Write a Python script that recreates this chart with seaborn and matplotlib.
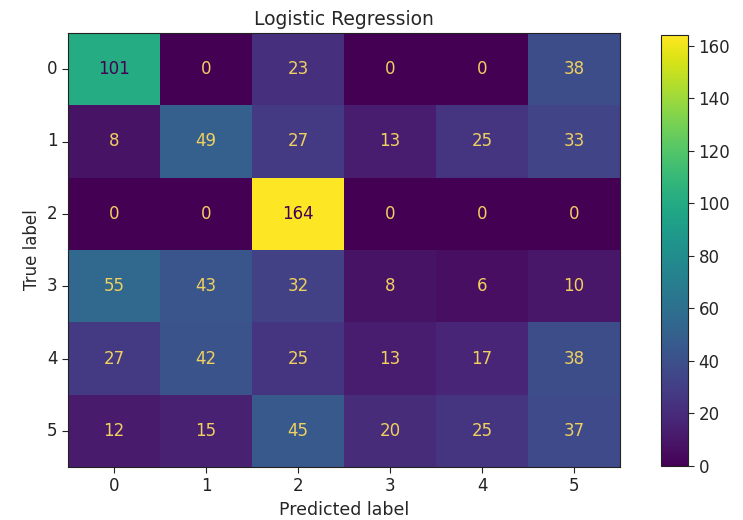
import numpy as np
import matplotlib
matplotlib.use("Agg")
import matplotlib.pyplot as plt
import seaborn as sns

# confusion matrix values
labels = ["0", "1", "2", "3", "4", "5"]
row0 = [101, 0, 23, 0, 0, 38]
row1 = [8, 49, 27, 13, 25, 33]
row2 = [0, 0, 164, 0, 0, 0]
row3 = [55, 43, 32, 8, 6, 10]
row4 = [27, 42, 25, 13, 17, 38]
row5 = [12, 15, 45, 20, 25, 37]
cm = np.array([row0, row1, row2, row3, row4, row5])

sns.set_style("white")
fig = plt.figure(figsize=(7.43, 5.2), dpi=100)
ax = fig.add_axes([68 / 743, 1 - 467 / 520, 552 / 743, 434 / 520])
cax = fig.add_axes([661 / 743, 1 - 466 / 520, 27 / 743, 431 / 520])

cmap = plt.get_cmap("viridis")
sns.heatmap(cm, ax=ax, cbar_ax=cax, cmap=cmap, vmin=0, vmax=cm.max(),
            annot=False, xticklabels=labels, yticklabels=labels)

# sklearn style text colours
thresh = (cm.max() + cm.min()) / 2.0
for i in range(cm.shape[0]):
    for j in range(cm.shape[1]):
        c = cmap(0) if cm[i, j] > thresh else "#f0d060"
        ax.text(j + 0.5, i + 0.5, str(cm[i, j]), ha="center", va="center",
                color=c, fontsize=12)

for sp in ax.spines.values():
    sp.set_visible(True)
    sp.set_color("#222222")
    sp.set_linewidth(0.8)
ax.tick_params(axis="both", which="both", length=4, width=0.8, left=True,
               bottom=True, labelsize=12, colors="#222222")
ax.set_yticklabels(labels, rotation=0)
ax.set_xticklabels(labels, rotation=0)
ax.set_xlabel("Predicted label", fontsize=12.5)
ax.set_ylabel("True label", fontsize=12)
ax.set_title("Logistic Regression", fontsize=13.5, pad=6)

cb = ax.collections[0].colorbar
cb.set_ticks(np.arange(0, 161, 20))
cb.ax.tick_params(labelsize=12, length=4, width=0.8, right=True)
cb.outline.set_visible(True)
cb.outline.set_edgecolor("#222222")
cb.outline.set_linewidth(0.8)

fig.savefig("out.png", dpi=100)
